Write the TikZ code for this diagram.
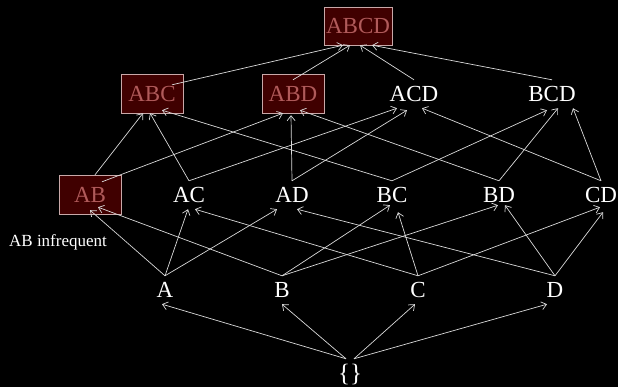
\documentclass[tikz,border=0pt]{standalone}
\usepackage{fontspec}
\setmainfont{Liberation Serif}
\usetikzlibrary{arrows.meta}
\definecolor{boxfill}{HTML}{400000}
\definecolor{boxline}{HTML}{C8A8A8}
\definecolor{boxtext}{HTML}{B05A5A}
\definecolor{edgegray}{HTML}{DADADA}
\begin{document}
\begin{tikzpicture}
    [
    x=1pt,y=-1pt,
    set/.style={text=white,font=\fontsize{23}{25}\selectfont,inner sep=6pt,text height=16pt,text depth=0pt},
    infreq/.style={set,fill=boxfill,draw=boxline,text=boxtext,inner sep=0pt,minimum width=62pt,minimum height=39pt},
    edge/.style={draw=edgegray,line width=0.7pt,-{Straight Barb[length=5pt,width=8pt]}}
    ]
    \fill [black] (0,0) rectangle (618,387);
    \useasboundingbox (0,0) rectangle (618,387);
    \node (ABCD) at (358,26) [infreq,minimum width=68pt,minimum height=38pt] {ABCD};
    \node (ABC) at (152,93.5) [infreq] {ABC};
    \node (ABD) at (293,93.5) [infreq] {ABD};
    \node (ACD) at (414,94) [set] {ACD};
    \node (BCD) at (552,94) [set] {BCD};
    \node (AB) at (90,194.5) [infreq] {AB};
    \node (AC) at (189,195) [set] {AC};
    \node (AD) at (292,195) [set] {AD};
    \node (BC) at (392,195) [set] {BC};
    \node (BD) at (499,195) [set] {BD};
    \node (CD) at (601,195) [set] {CD};
    \node (A) at (165,290) [set] {A};
    \node (B) at (282,290) [set] {B};
    \node (C) at (418,290) [set] {C};
    \node (D) at (555,290) [set] {D};
    \node (E) at (350,373) [set,font=\fontsize{25}{27}\selectfont] {\{\}};
    \node (note) at (58,242) [text=white,font=\fontsize{17}{19}\selectfont,inner sep=0pt] {AB infrequent};
    % empty set to singletons
    \draw [edge] ([xshift=-4pt]E.north) -- ([xshift=-3pt]A.south);
    \draw [edge] ([xshift=-4pt]E.north) -- (B.south);
    \draw [edge] ([xshift=4pt]E.north) -- ([xshift=-3pt]C.south);
    \draw [edge] ([xshift=4pt]E.north) -- ([xshift=-8pt]D.south);
    % singletons to pairs
    \draw [edge] (A.north) -- ([yshift=4pt]AB.south);
    \draw [edge] (A.north) -- ([xshift=-1pt]AC.south);
    \draw [edge] (A.north) -- ([xshift=-15pt]AD.south);
    \draw [edge] (B.north) -- ([xshift=8pt,yshift=7pt]AB.south);
    \draw [edge] (B.north) -- ([xshift=-2pt,yshift=4pt]BC.south);
    \draw [edge] (B.north) -- ([xshift=-1pt,yshift=4pt]BD.south);
    \draw [edge] (C.north) -- ([xshift=6pt]AC.south);
    \draw [edge] (C.north) -- ([xshift=6pt,yshift=-3pt]BC.south);
    \draw [edge] (C.north) -- ([xshift=-1pt,yshift=2pt]CD.south);
    \draw [edge] (D.north) -- ([xshift=5pt]AD.south);
    \draw [edge] (D.north) -- ([xshift=6pt,yshift=4pt]BD.south);
    \draw [edge] (D.north) -- ([xshift=2pt,yshift=-3pt]CD.south);
    % pairs to triples
    \draw [edge] ([xshift=5pt]AB.north) -- ([xshift=-9pt]ABC.south);
    \draw [edge] ([xshift=12pt,yshift=-7pt]AB.north) -- ([xshift=-10pt]ABD.south);
    \draw [edge] (AC.north) -- ([xshift=-2pt]ABC.south);
    \draw [edge] (AC.north) -- ([xshift=-17pt]ACD.south);
    \draw [edge] (AD.north) -- ([xshift=-2pt,yshift=-2pt]ABD.south);
    \draw [edge] (AD.north) -- ([xshift=-7pt,yshift=-2pt]ACD.south);
    \draw [edge] (BC.north) -- ([xshift=10pt,yshift=3pt]ABC.south);
    \draw [edge] (BC.north) -- ([xshift=-5pt,yshift=-2pt]BCD.south);
    \draw [edge] (BD.north) -- ([xshift=7pt,yshift=3pt]ABD.south);
    \draw [edge] (BD.north) -- ([xshift=6pt]BCD.south);
    \draw [edge] (CD.north) -- ([xshift=8pt]ACD.south);
    \draw [edge] (CD.north) -- ([xshift=21pt]BCD.south);
    % triples to ABCD
    \draw [edge] ([xshift=20pt,yshift=-11pt]ABC.north) -- ([xshift=-15pt]ABCD.south);
    \draw [edge] ([yshift=-6pt]ABD.north) -- ([xshift=-8pt]ABCD.south);
    \draw [edge] (ACD.north) -- ([xshift=2pt]ABCD.south);
    \draw [edge] (BCD.north) -- ([xshift=14pt]ABCD.south);
  \end{tikzpicture}
\end{document}
